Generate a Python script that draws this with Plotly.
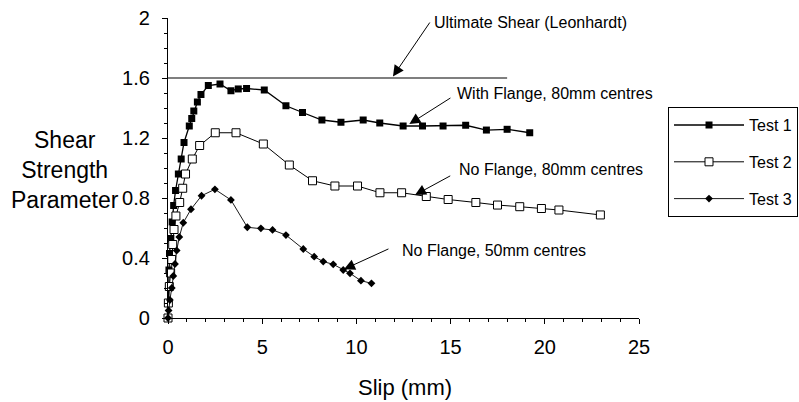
import plotly.graph_objects as go

# ---- data ----
t1_x = [0, 0.02, 0.03, 0.05, 0.08, 0.15, 0.22, 0.3, 0.4, 0.55, 0.7, 0.85, 1.13, 1.26, 1.37,
        1.56, 1.75, 2.14, 2.76, 3.34, 3.73, 4.17, 5.11, 6.26, 7.14, 8.17, 9.18, 10.36, 11.24,
        12.48, 13.51, 14.6, 15.8, 16.9, 18.0, 19.2]
t1_y = [0, 0.1, 0.21, 0.32, 0.43, 0.53, 0.64, 0.75, 0.85, 0.96, 1.06, 1.17, 1.28, 1.33, 1.38,
        1.44, 1.49, 1.55, 1.56, 1.515, 1.527, 1.53, 1.52, 1.415, 1.37, 1.32, 1.305, 1.32, 1.30,
        1.28, 1.28, 1.28, 1.285, 1.253, 1.258, 1.235]

t2_x = [0, 0.02, 0.07, 0.14, 0.2, 0.25, 0.32, 0.42, 0.62, 0.78, 0.93, 1.29, 1.68, 2.51, 3.61,
        5.06, 6.44, 7.67, 8.86, 10.06, 11.25, 12.4, 13.71, 14.87, 16.34, 17.49, 18.67, 19.82,
        20.75, 22.95]
t2_y = [0, 0.1, 0.21, 0.3, 0.39, 0.49, 0.59, 0.68, 0.77, 0.865, 0.96, 1.06, 1.15, 1.235, 1.235,
        1.16, 1.02, 0.915, 0.88, 0.88, 0.835, 0.835, 0.81, 0.79, 0.77, 0.753, 0.742, 0.73,
        0.72, 0.687]

t3_x = [0, 0.03, 0.1, 0.2, 0.28, 0.37, 0.46, 0.6, 0.81, 1.22, 1.78, 2.49, 3.34, 4.21, 4.93,
        5.55, 6.26, 7.18, 7.76, 8.24, 8.77, 9.3, 9.66, 10.24, 10.8]
t3_y = [0, 0.05, 0.12, 0.2, 0.28, 0.36, 0.45, 0.54, 0.635, 0.725, 0.815, 0.858, 0.787, 0.605,
        0.598, 0.587, 0.553, 0.46, 0.409, 0.376, 0.358, 0.32, 0.298, 0.249, 0.231]

ult_x = [0, 18]
ult_y = [1.6, 1.6]

series_names = ["Test 1", "Test 2", "Test 3"]
x_ticks = [0, 5, 10, 15, 20, 25]
y_ticks = [0, 0.4, 0.8, 1.2, 1.6, 2]

FONT = "Liberation Sans, Arial, Helvetica, sans-serif"

fig = go.Figure()

fig.add_trace(go.Scatter(x=ult_x, y=ult_y, mode="lines", showlegend=False,
                         line=dict(color="black", width=1.2), hoverinfo="skip"))

fig.add_trace(go.Scatter(x=t1_x, y=t1_y, mode="lines+markers", name=series_names[0],
                         legendgroup="g1", cliponaxis=False,
                         line=dict(color="black", width=1.3),
                         marker=dict(symbol="square", size=7, color="black")))
fig.add_trace(go.Scatter(x=t2_x, y=t2_y, mode="lines+markers", name=series_names[1],
                         legendgroup="g2", cliponaxis=False,
                         line=dict(color="black", width=1),
                         marker=dict(symbol="square", size=8, color="white",
                                     line=dict(color="black", width=1))))
fig.add_trace(go.Scatter(x=t3_x, y=t3_y, mode="lines+markers", name=series_names[2],
                         legendgroup="g3", cliponaxis=False,
                         line=dict(color="black", width=0.9),
                         marker=dict(symbol="diamond", size=6, color="black")))

ann_font = dict(family=FONT, size=16, color="black")

def label(text, x, y):
    fig.add_annotation(text=text, x=x, y=y, xref="x", yref="y", xanchor="left",
                       yanchor="middle", showarrow=False, font=ann_font)

def arrow(x_head, y_head, x_tail, y_tail):
    fig.add_annotation(text="", x=x_head, y=y_head, xref="x", yref="y",
                       ax=x_tail, ay=y_tail, axref="x", ayref="y",
                       showarrow=True, arrowhead=2, arrowsize=2.2, arrowwidth=1,
                       arrowcolor="black", standoff=0, startstandoff=0)

label("Ultimate Shear (Leonhardt)", 14.0, 1.973)
arrow(11.94, 1.61, 13.95, 1.98)

label("With Flange, 80mm centres", 15.23, 1.50)
arrow(12.81, 1.293, 15.07, 1.473)

label("No Flange, 80mm centres", 15.34, 0.987)
arrow(13.11, 0.82, 15.06, 0.953)

label("No Flange, 50mm centres", 12.31, 0.453)
arrow(9.34, 0.325, 11.78, 0.465)

# axis titles
fig.add_annotation(text="Shear<br>Strength<br>Parameter", xref="paper", yref="paper",
                   x=0, xshift=-103, y=0.493, xanchor="center", yanchor="middle",
                   showarrow=False, align="center",
                   font=dict(family=FONT, size=23, color="black"))
fig.add_annotation(text="Slip (mm)", xref="paper", yref="paper", x=0.503, y=-0.233,
                   xanchor="center", yanchor="middle", showarrow=False,
                   font=dict(family=FONT, size=22, color="black"))

fig.update_xaxes(range=[0, 25], tickvals=x_ticks, ticks="outside", ticklen=5, tickwidth=1,
                 tickcolor="black", showline=True, linecolor="black", linewidth=1.2,
                 showgrid=False, zeroline=False, ticklabelstandoff=6,
                 tickfont=dict(family=FONT, size=20, color="black"),
                 minor=dict(dtick=1, ticks="outside", ticklen=3, tickcolor="black", showgrid=False))
fig.update_yaxes(range=[0, 2], tickvals=y_ticks, ticks="outside", ticklen=5, tickwidth=1,
                 tickcolor="black", showline=True, linecolor="black", linewidth=1.2,
                 showgrid=False, zeroline=False, ticklabelstandoff=8,
                 tickfont=dict(family=FONT, size=20, color="black"),
                 minor=dict(dtick=0.1, ticks="outside", ticklen=3, tickcolor="black", showgrid=False))

fig.update_layout(
    width=799, height=402,
    margin=dict(l=168, r=160, t=18, b=84, autoexpand=False),
    paper_bgcolor="white", plot_bgcolor="white",
    font=dict(family=FONT, color="black"),
    legend=dict(x=1.0616, y=0.703, xanchor="left", yanchor="top",
                bordercolor="black", borderwidth=1, bgcolor="white",
                font=dict(family=FONT, size=16, color="black"),
                itemwidth=70, tracegroupgap=13, traceorder="grouped"),
)

fig.write_html("out.html")
